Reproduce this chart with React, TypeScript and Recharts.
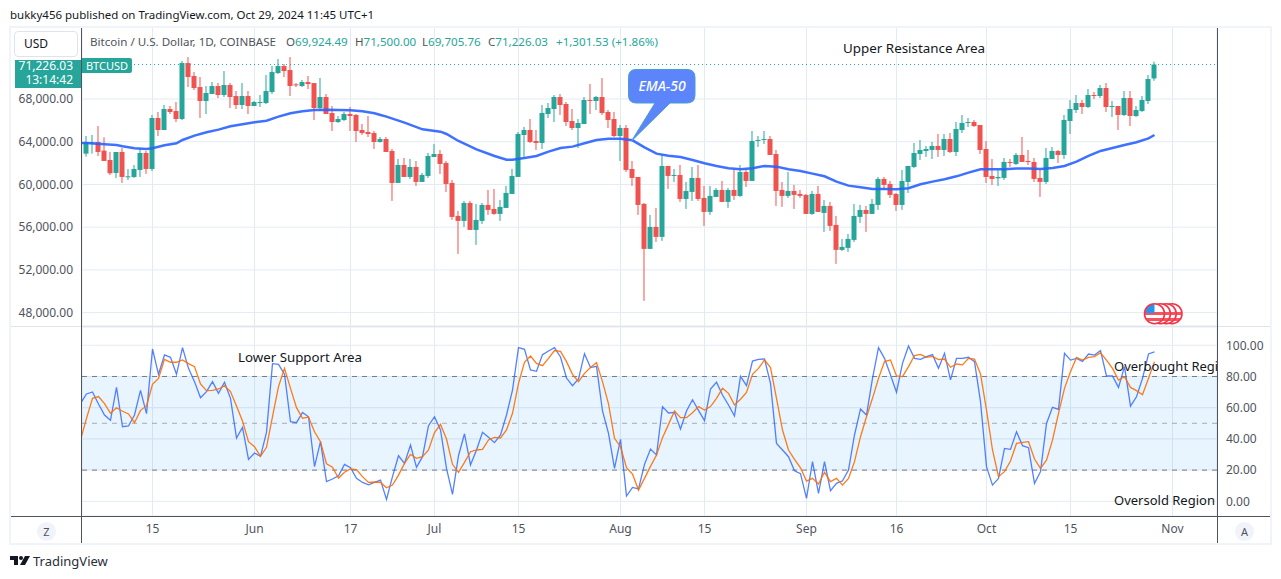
import React from 'react';
import {
  Bar,
  CartesianGrid,
  ComposedChart,
  Line,
  LineChart,
  ReferenceArea,
  ReferenceLine,
  XAxis,
  YAxis
} from 'recharts';

// Daily BTCUSD candles, index 0 = May 4 2024, index 178 = Oct 29 2024
const opens = [
  62884, 63882, 63975, 63165, 62291, 61075, 63040, 60701, 60701, 61356,
  62946, 61449, 66221, 65098, 67063, 66876, 66128, 71368, 70151, 69122,
  67812, 68467, 69215, 68373, 69309, 68280, 67438, 68280, 67344, 67656,
  67625, 68654, 70432, 71087, 70713, 69371, 69215, 69590, 69496, 67157,
  68186, 66689, 65847, 66034, 66595, 66502, 65098, 64911, 64818, 63976,
  64257, 63134, 60140, 61824, 60701, 61637, 60233, 60795, 62573, 62853,
  62011, 60140, 57052, 56584, 58269, 55742, 56584, 58081, 57707, 57239,
  57801, 59111, 60701, 64631, 65099, 64070, 63883, 66596, 67064, 68187,
  67532, 65941, 65286, 65660, 67906, 67813, 68187, 66783, 66128, 64538,
  65286, 61450, 60701, 58175, 53964, 56023, 55087, 61731, 60826, 60888,
  58643, 59298, 60608, 58736, 57426, 58830, 59485, 58362, 59485, 58924,
  61169, 60327, 64101, 64195, 64257, 62853, 59485, 58924, 59391, 59111,
  59017, 57239, 59111, 57333, 57988, 56210, 53871, 54058, 54807, 56958,
  57613, 57239, 58081, 60514, 60046, 59111, 58081, 60233, 61637, 62853,
  63134, 63228, 63602, 63228, 64257, 63041, 65099, 65785, 65847, 65567,
  63321, 60795, 60576, 60608, 62105, 61918, 62760, 62198, 62105, 60608,
  60233, 62385, 63134, 62760, 65941, 66970, 67625, 67251, 68374, 68280,
  69029, 67282, 67345, 66503, 68093, 66409, 66877, 67813, 69924
];
const highs = [
  64537, 64631, 65473, 64412, 63040, 62541, 63414, 61449, 61823, 63383,
  63133, 66502, 66783, 67438, 67344, 67718, 71555, 71929, 70525, 70058,
  69215, 69590, 69496, 70619, 69496, 68748, 69496, 68748, 67812, 68373,
  70245, 71087, 71742, 71274, 71929, 69496, 69777, 70151, 69496, 69964,
  68467, 67344, 66408, 66783, 67251, 66595, 65660, 66408, 65005, 64444,
  64444, 63321, 62386, 62479, 62386, 62198, 61076, 62947, 63789, 63228,
  62198, 60421, 57520, 58456, 58456, 58175, 58269, 59485, 59578, 58549,
  59859, 61450, 64912, 65380, 66128, 65099, 67438, 67625, 68374, 68468,
  67719, 67064, 66128, 68187, 69403, 68280, 69965, 66970, 66783, 65567,
  65567, 62198, 60701, 58269, 57146, 57801, 62760, 61731, 61450, 61824,
  60233, 61637, 61824, 59859, 59859, 59672, 60327, 59672, 61450, 61824,
  61450, 65006, 64538, 65006, 64538, 63228, 60233, 61169, 59953, 59485,
  59111, 59391, 59859, 58549, 58362, 57052, 54900, 55368, 58175, 58081,
  57988, 58643, 60701, 60701, 60327, 59204, 61356, 61731, 63883, 64163,
  63602, 63976, 64725, 64725, 64818, 65848, 66503, 66222, 66035, 65567,
  64070, 62385, 61356, 62479, 62385, 62947, 64444, 63228, 62479, 61356,
  63415, 63508, 63228, 66503, 67906, 68374, 67906, 68935, 68655, 69310,
  69497, 67813, 67345, 68748, 68748, 67345, 68280, 70245, 71500
];
const lows = [
  62603, 62884, 62666, 62198, 60888, 60607, 60139, 60420, 60607, 60701,
  60981, 61262, 64537, 65098, 66595, 65847, 66034, 69122, 68841, 66221,
  66595, 68467, 68093, 68186, 67157, 67063, 67063, 66595, 67344, 67251,
  67531, 68467, 70338, 70058, 68280, 69122, 69122, 68935, 66034, 66876,
  66595, 65005, 65753, 65941, 65005, 63975, 64631, 64444, 63321, 63914,
  63041, 58456, 60140, 60701, 60514, 59859, 60233, 60608, 62573, 60982,
  59298, 56678, 53496, 56023, 55742, 54339, 56303, 57146, 57146, 56584,
  57801, 59111, 60701, 62479, 63883, 63228, 63321, 66222, 65848, 66503,
  65473, 65099, 63415, 65660, 66596, 66970, 66503, 65286, 64444, 62198,
  61169, 59859, 57146, 49099, 53964, 54619, 54713, 59579, 60233, 58362,
  57707, 58456, 58456, 56117, 57146, 58830, 58362, 57801, 58549, 58830,
  59765, 60327, 63508, 63789, 62760, 57988, 57894, 58736, 57707, 58736,
  57239, 57146, 57426, 55555, 55649, 52560, 53777, 53684, 54619, 56397,
  55555, 57239, 57613, 59485, 58736, 57520, 57613, 59204, 61544, 62292,
  62573, 62386, 62573, 62666, 62947, 62666, 64818, 65380, 65380, 62853,
  60140, 59953, 59859, 60421, 61637, 61824, 62105, 61824, 60233, 58830,
  60046, 62385, 62011, 62385, 64725, 66690, 66596, 67158, 67999, 68093,
  66783, 66315, 65099, 66409, 65473, 66315, 66783, 67532, 69706
];
const closes = [
  63944, 63944, 63040, 62198, 61044, 63040, 60701, 60763, 61449, 62946,
  61449, 66221, 65098, 67063, 66783, 66128, 71368, 70058, 69028, 67812,
  68560, 69215, 68373, 69309, 68186, 67438, 68280, 67344, 67718, 67718,
  68748, 70525, 71087, 70619, 69215, 69278, 69590, 69403, 67157, 68186,
  66595, 65847, 66128, 66595, 66408, 65005, 64818, 64724, 63975, 64257,
  63041, 60140, 61824, 60701, 61637, 60233, 60888, 62666, 62853, 61918,
  60046, 56958, 56584, 58269, 55742, 56678, 58081, 57613, 57239, 57894,
  59204, 60795, 64725, 65099, 63976, 63883, 66690, 67158, 68187, 67438,
  65848, 65286, 65754, 67906, 67844, 68187, 66690, 66035, 64538, 65286,
  61356, 60608, 58081, 53964, 56023, 55087, 61731, 60795, 60888, 58643,
  59391, 60608, 58643, 57426, 58924, 59485, 58362, 59485, 58924, 61169,
  60327, 64070, 64163, 64257, 62760, 59391, 58924, 59391, 59017, 58924,
  57239, 59111, 57426, 57988, 56117, 53871, 54152, 54900, 57052, 57613,
  57239, 58175, 60514, 59953, 59017, 58081, 60327, 61731, 62947, 63228,
  63321, 63602, 63228, 64257, 63041, 65193, 65754, 65847, 65473, 63228,
  60701, 60514, 60701, 62105, 62011, 62760, 62105, 62105, 60514, 60233,
  62479, 63134, 62760, 66035, 67064, 67625, 67251, 68374, 68280, 69029,
  67251, 67345, 66503, 68093, 66409, 66970, 67906, 69871, 71226.03
];

// EMA-50 read at these candle indexes, -1 is the candle just left of the pane
const emaIndexes = [
  -1, 0, 3, 5, 6, 8, 10, 11, 13, 15, 16, 18, 20, 22, 24, 26, 28, 30, 32, 34, 36, 38, 40, 42, 44, 46,
  48, 49, 50, 53, 56, 59, 60, 62, 65, 68, 70, 71, 73, 75, 77, 79, 81, 83, 85, 87, 89, 91, 93, 95, 97,
  99, 101, 103, 105, 107, 109, 111, 113, 115, 117, 119, 121, 123, 125, 127, 129, 131, 133, 135, 137,
  139, 141, 143, 145, 147, 149, 151, 153, 155, 157, 159, 161, 163, 165, 167, 169, 171, 173, 175, 177, 178
];
const emaValues = [
  63890, 63882, 63757, 63695, 63570, 63383, 63321, 63383, 63664, 63851, 64163, 64568, 64880, 65130, 65442, 65629, 65816, 65972, 66346, 66658, 66845, 66970, 67001, 66970, 66939, 66845,
  66658, 66502, 66347, 65785, 65162, 64943, 64725, 64070, 63290, 62666, 62323, 62323, 62479, 62666, 63072, 63415, 63540, 63852, 64163, 64288, 64288, 64132, 63477, 62885, 62697,
  62573, 62292, 61980, 61731, 61512, 61419, 61512, 61731, 61668, 61419, 61263, 61013, 60764, 60265, 59890, 59735, 59578, 59578, 59547, 59641,
  60015, 60265, 60483, 60760, 61107, 61418, 61418, 61418, 61481, 61481, 61450, 61543, 61731, 62135, 62666, 63134, 63415, 63695, 63945, 64319, 64631
];

// Stochastic RSI, first value is candle -1
const stochK = [
  62.8, 68.8, 70.1, 62.4, 55.3, 51.9, 73.0, 47.8, 48.3, 55.3, 71.1, 56.2, 97.6, 81.4, 93.8, 92.3, 81.4, 98.5,
  85.2, 76.7, 66.4, 70.3, 76.7, 69.2, 76.3, 66.0, 40.6, 47.4, 26.9, 31.0, 28.8, 44.2, 88.2, 87.8, 81.4, 51.0,
  50.4, 57.0, 54.2, 22.2, 38.2, 12.6, 14.3, 16.4, 23.7, 21.5, 14.7, 12.1, 10.6, 12.1, 13.6, 1.2, 15.8, 29.2,
  24.3, 36.1, 21.8, 28.6, 48.5, 54.2, 45.7, 21.1, 4.4, 29.2, 43.3, 23.3, 32.9, 44.2, 41.0, 37.6, 42.5, 55.3,
  71.3, 98.5, 97.4, 84.2, 83.3, 94.0, 96.3, 98.5, 92.5, 79.0, 74.1, 78.4, 94.6, 85.7, 86.5, 57.9, 43.6, 21.1,
  39.7, 3.4, 8.9, 7.9, 23.7, 33.5, 29.7, 60.7, 56.6, 57.0, 46.3, 57.9, 65.1, 58.3, 51.7, 72.0, 76.3,
  68.1, 61.7, 54.7, 80.1, 74.1, 89.9, 91.0, 91.2, 75.6, 37.1, 32.9, 28.6, 19.6, 17.7, 1.9, 25.4, 5.1, 25.4,
  6.8, 11.5, 13.2, 20.0, 42.5, 59.2, 55.3, 78.8, 98.5, 91.6, 81.0, 69.9, 88.4, 99.5, 91.6, 91.0, 92.7, 94.0,
  85.2, 94.8, 77.8, 91.6, 91.6, 92.3, 89.5, 63.9, 22.2, 10.4, 14.7, 33.9, 33.3, 44.6, 35.7, 34.4, 11.5, 19.0,
  49.9, 60.2, 58.9, 94.8, 90.5, 91.6, 89.7, 94.4, 93.7, 96.5, 80.3, 80.3, 73.0, 86.3, 61.0, 67.0, 78.8, 94.4, 95.7
];
const stochD = [
  39.3, 53.2, 66.0, 67.1, 62.6, 56.4, 60.0, 57.7, 56.0, 50.4, 58.3, 61.1, 75.0, 78.8, 91.0, 89.1, 89.1, 90.6,
  88.2, 86.3, 75.2, 70.9, 71.1, 72.0, 74.1, 70.3, 61.1, 51.5, 38.2, 35.0, 28.8, 34.6, 54.2, 73.5, 85.2, 72.4,
  60.0, 53.2, 54.0, 44.6, 38.2, 24.1, 21.8, 14.9, 18.6, 20.7, 20.3, 15.8, 12.1, 12.4, 12.1, 8.7, 10.4, 16.8,
  24.3, 30.1, 27.5, 28.6, 32.9, 44.0, 49.3, 39.9, 23.7, 18.6, 25.0, 31.8, 32.9, 33.3, 39.3, 41.0, 40.6, 45.7,
  56.4, 75.6, 89.1, 93.1, 88.4, 86.9, 91.6, 96.6, 96.1, 89.5, 81.4, 76.7, 82.0, 85.7, 88.9, 76.7, 62.4, 40.4,
  35.0, 21.5, 17.5, 7.2, 14.7, 22.4, 29.7, 40.8, 49.3, 57.9, 53.6, 53.6, 56.8, 60.7, 58.5, 60.7, 66.0,
  72.4, 69.2, 61.7, 65.4, 69.8, 81.4, 85.2, 90.6, 85.7, 66.0, 45.7, 32.9, 26.9, 21.5, 13.0, 14.7, 11.1, 18.6,
  12.6, 14.7, 10.4, 14.7, 25.4, 41.4, 54.2, 66.0, 78.8, 89.5, 90.6, 80.3, 79.9, 86.3, 93.4, 94.2, 92.3, 92.9,
  90.8, 91.2, 85.9, 88.0, 87.4, 91.6, 91.2, 81.6, 58.5, 32.9, 15.8, 19.0, 25.8, 37.1, 37.8, 38.2, 27.1, 21.1,
  26.4, 39.2, 56.3, 72.4, 83.1, 92.2, 90.5, 92.2, 92.7, 95.2, 90.5, 85.2, 77.7, 79.8, 73.0, 70.9, 68.3, 78.8, 89.5
];

const timeTicks = [11, 28, 44, 58, 72, 89, 103, 120, 135, 150, 164, 181];
const timeLabels = ['15', 'Jun', '17', 'Jul', '15', 'Aug', '15', 'Sep', '16', 'Oct', '15', 'Nov'];
const priceTicks = [48000, 52000, 56000, 60000, 64000, 68000];
const stochTicks = [0, 20, 40, 60, 80, 100];
const lastPrice = 71226.03;

const COLORS = {
  up: '#26a69a',
  down: '#ef5350',
  ema: '#2962ff',
  k: '#2962ff',
  d: '#ff6d00',
  grid: '#e3ebf2',
  axisText: '#50535e',
  frame: '#f0f3fa',
  axisLine: '#50535e'
};

const FONT = '"Noto Sans", sans-serif';
const DOMAIN_X: [number, number] = [-0.75, 188.4167];

const candleRows = [-1, ...opens.map((_, i) => i)].map((i) => {
  const emaAt = emaIndexes.indexOf(i);
  return {
    i,
    range: i >= 0 ? [lows[i], highs[i]] : null,
    open: opens[i],
    high: highs[i],
    low: lows[i],
    close: closes[i],
    ema: emaAt >= 0 ? emaValues[emaAt] : null
  };
});

const stochRows = stochK.map((k, idx) => ({ i: idx - 1, k, d: stochD[idx] }));

const formatPrice = (v: number) =>
  v.toLocaleString('en-US', { minimumFractionDigits: 2, maximumFractionDigits: 2 });

// Bar gets low..high as its range, open and close are placed with the same px/price ratio
const Candle = (props: any) => {
  const { x, y, width, height, payload } = props;
  if (!payload || payload.high === undefined) return null;
  const ratio = height / (payload.high - payload.low);
  const toY = (v: number) => y + (payload.high - v) * ratio;
  const color = payload.close >= payload.open ? COLORS.up : COLORS.down;
  const top = toY(Math.max(payload.open, payload.close));
  const bottom = toY(Math.min(payload.open, payload.close));
  return (
    <g>
      <line x1={x + width / 2} x2={x + width / 2} y1={y} y2={y + height} stroke={color} strokeWidth={1} />
      <rect x={x} y={top} width={width} height={Math.max(bottom - top, 1)} fill={color} />
    </g>
  );
};

const Label = ({ x, y, size = 12, color = '#131722', style, children }: any) => (
  <div
    style={{
      position: 'absolute',
      left: x,
      top: y,
      fontFamily: FONT,
      fontSize: size,
      lineHeight: '16px',
      color,
      whiteSpace: 'nowrap',
      ...style
    }}
  >
    {children}
  </div>
);

const Box = ({ x, y, w, h, color }: any) => (
  <div style={{ position: 'absolute', left: x, top: y, width: w, height: h, background: color }} />
);

const badgeCenters = [30, 24.2, 18.4, 12.5];

const FlagBadges = () => (
  <svg width={44} height={26} style={{ position: 'absolute', left: 1142, top: 301 }}>
    <defs>
      {badgeCenters.map((cx) => (
        <clipPath id={`badge-${cx}`} key={cx}>
          <circle cx={cx} cy={12.7} r={9.6} />
        </clipPath>
      ))}
    </defs>
    {badgeCenters.map((cx, idx) => (
      <g key={cx}>
        <circle cx={cx} cy={12.7} r={10} fill="#ffffff" />
        <g clipPath={`url(#badge-${cx})`}>
          <rect x={cx - 10} y={11} width={20} height={3} fill="#f7525f" />
          <rect x={cx - 10} y={17} width={20} height={3} fill="#f7525f" />
          {idx === 3 && <rect x={cx - 10} y={3} width={10} height={9} fill="#2196f3" />}
        </g>
        <circle cx={cx} cy={12.7} r={10} fill="none" stroke="#f23645" strokeWidth={1.6} />
      </g>
    ))}
  </svg>
);

const Callout = () => (
  <svg width={80} height={80} style={{ position: 'absolute', left: 624, top: 66 }}>
    <path
      d="M12 3.5 H63 Q71 3.5 71 11.5 V29 Q71 37 63 37 H46 L7.5 75 L31 37 H12 Q4.5 37 4.5 29 V11.5 Q4.5 3.5 12 3.5 Z"
      fill="#5c85fb"
      stroke="#45a0d0"
      strokeWidth={1}
    />
    <text
      x={38}
      y={25}
      textAnchor="middle"
      fill="#ffffff"
      fontFamily={FONT}
      fontStyle="italic"
      fontWeight={500}
      fontSize={14}
    >
      EMA-50
    </text>
  </svg>
);

const App = () => (
  <div style={{ position: 'fixed', left: 0, top: 0, width: 1281, height: 579, background: '#ffffff', overflow: 'hidden' }}>
    <Label x={10} y={7} size={11.5} color="#131722">
      bukky456 published on TradingView.com, Oct 29, 2024 11:45 UTC+1
    </Label>

    {/* price pane */}
    <div style={{ position: 'absolute', left: 0, top: 0 }}>
      <ComposedChart
        width={1281}
        height={326}
        data={candleRows}
        margin={{ top: 27, right: 64, bottom: 0, left: 11 }}
      >
        <CartesianGrid stroke={COLORS.grid} strokeWidth={1} />
        <XAxis dataKey="i" type="number" domain={DOMAIN_X} ticks={timeTicks} allowDataOverflow hide />
        <YAxis
          domain={[46745, 74742]}
          ticks={priceTicks}
          allowDataOverflow
          width={71}
          axisLine={false}
          tickLine={false}
          tickSize={0}
          tickMargin={9}
          tick={{ fontSize: 12, fontFamily: FONT, fill: COLORS.axisText }}
          tickFormatter={formatPrice}
        />
        <ReferenceLine y={lastPrice} stroke={COLORS.up} strokeDasharray="1 3" />
        <Bar dataKey="range" barSize={5} shape={<Candle />} isAnimationActive={false} />
        <Line
          dataKey="ema"
          stroke={COLORS.ema}
          strokeWidth={2.5}
          strokeOpacity={0.9}
          dot={false}
          connectNulls
          isAnimationActive={false}
        />
      </ComposedChart>
    </div>

    {/* stochastic pane */}
    <div style={{ position: 'absolute', left: 0, top: 0 }}>
      <LineChart
        width={1281}
        height={579}
        data={stochRows}
        margin={{ top: 327, right: 9, bottom: 35, left: 82 }}
      >
        <CartesianGrid stroke={COLORS.grid} strokeWidth={1} />
        <ReferenceArea y1={20} y2={80} fill="#2196f3" fillOpacity={0.1} stroke="none" />
        <XAxis
          dataKey="i"
          type="number"
          domain={DOMAIN_X}
          ticks={timeTicks}
          allowDataOverflow
          height={28}
          axisLine={false}
          tickLine={false}
          tickSize={0}
          tickMargin={8}
          tick={{ fontSize: 12, fontFamily: FONT, fill: COLORS.axisText }}
          tickFormatter={(v: number) => timeLabels[timeTicks.indexOf(v)]}
        />
        <YAxis
          orientation="right"
          domain={[-9.4, 111.7]}
          ticks={stochTicks}
          allowDataOverflow
          width={55}
          axisLine={false}
          tickLine={false}
          tickSize={0}
          tickMargin={9}
          tick={{ fontSize: 12, fontFamily: FONT, fill: COLORS.axisText, textAnchor: 'start' }}
          tickFormatter={(v: number) => v.toFixed(2)}
        />
        <ReferenceLine y={80} stroke="#787b86" strokeDasharray="5 5" />
        <ReferenceLine y={50} stroke="#787b86" strokeOpacity={0.6} strokeDasharray="5 5" />
        <ReferenceLine y={20} stroke="#787b86" strokeDasharray="5 5" />
        <Line dataKey="k" stroke={COLORS.k} strokeWidth={1.3} strokeOpacity={0.8} dot={false} isAnimationActive={false} />
        <Line dataKey="d" stroke={COLORS.d} strokeWidth={1.3} strokeOpacity={0.9} dot={false} isAnimationActive={false} />
      </LineChart>
    </div>

    {/* frame and pane separators */}
    <div
      style={{
        position: 'absolute',
        left: 9,
        top: 26,
        width: 1259,
        height: 515,
        border: `2px solid ${COLORS.frame}`
      }}
    />
    <Box x={11} y={326} w={1259} h={1} color="#e0e3eb" />
    <Box x={11} y={516} w={1259} h={1} color={COLORS.axisLine} />
    <Box x={81} y={28} w={1} h={515} color={COLORS.axisLine} />
    <Box x={1217} y={28} w={1} h={515} color={COLORS.axisLine} />

    {/* legend */}
    <Label x={90} y={34} size={11.6} color="#50535e">
      Bitcoin / U.S. Dollar, 1D, COINBASE
    </Label>
    <Label x={286} y={34} size={11.6} color="#50535e">
      O<span style={{ color: COLORS.up }}>69,924.49</span>
    </Label>
    <Label x={355} y={34} size={11.6} color="#50535e">
      H<span style={{ color: COLORS.up }}>71,500.00</span>
    </Label>
    <Label x={422} y={34} size={11.6} color="#50535e">
      L<span style={{ color: COLORS.up }}>69,705.76</span>
    </Label>
    <Label x={488} y={34} size={11.6} color="#50535e">
      C<span style={{ color: COLORS.up }}>71,226.03</span>
    </Label>
    <Label x={556} y={34} size={11.6} color={COLORS.up}>
      +1,301.53 (+1.86%)
    </Label>

    {/* price scale widgets */}
    <div
      style={{
        position: 'absolute',
        left: 14,
        top: 31,
        width: 64,
        height: 26,
        boxSizing: 'border-box',
        border: '1px solid #e0e3eb',
        borderRadius: 4,
        background: '#ffffff',
        fontFamily: FONT,
        fontSize: 12,
        lineHeight: '24px',
        paddingLeft: 9,
        color: '#131722'
      }}
    >
      USD
    </div>
    <div
      style={{
        position: 'absolute',
        left: 15,
        top: 60,
        width: 66,
        height: 28,
        background: COLORS.up,
        color: '#ffffff',
        fontFamily: FONT,
        fontSize: 12,
        textAlign: 'right',
        paddingRight: 8,
        boxSizing: 'border-box',
        lineHeight: '14px'
      }}
    >
      <div style={{ height: 12, overflow: 'hidden', lineHeight: '11px' }}>71,226.03</div>
      <div style={{ marginTop: 1 }}>13:14:42</div>
    </div>
    <div
      style={{
        position: 'absolute',
        left: 82,
        top: 58,
        width: 50,
        height: 15,
        background: COLORS.up,
        color: '#ffffff',
        fontFamily: FONT,
        fontSize: 11,
        textAlign: 'center',
        lineHeight: '15px',
        borderRadius: '0 2px 2px 0'
      }}
    >
      BTCUSD
    </div>

    {/* drawn annotations */}
    <Label x={843} y={40} size={13.4}>
      Upper Resistance Area
    </Label>
    <Label x={238} y={349} size={13.3}>
      Lower Support Area
    </Label>
    <div style={{ position: 'absolute', left: 1114, top: 358, width: 103, overflow: 'hidden' }}>
      <div style={{ fontFamily: FONT, fontSize: 13, lineHeight: '16px', color: '#131722', whiteSpace: 'nowrap' }}>
        Overbought Region
      </div>
    </div>
    <Label x={1114} y={492} size={13}>
      Oversold Region
    </Label>
    <Callout />
    <FlagBadges />

    {/* corner buttons and logo */}
    <div style={{ position: 'absolute', left: 37, top: 522, width: 19, height: 19, borderRadius: 10, background: COLORS.frame, textAlign: 'center', fontFamily: FONT, fontSize: 11, lineHeight: '19px', color: COLORS.axisText }}>
      Z
    </div>
    <div style={{ position: 'absolute', left: 1235, top: 522, width: 19, height: 19, borderRadius: 10, background: COLORS.frame, textAlign: 'center', fontFamily: FONT, fontSize: 11, lineHeight: '19px', color: COLORS.axisText }}>
      A
    </div>
    <svg width={20} height={10} style={{ position: 'absolute', left: 10, top: 556 }}>
      <path d="M0 0 H8 V9 H4 V4 H0 Z" fill="#131722" />
      <circle cx={11} cy={2} r={2} fill="#131722" />
      <path d="M15 0 H20 L15 9 H10 Z" fill="#131722" />
    </svg>
    <Label x={33} y={553} size={13} color="#2a2e39">
      TradingView
    </Label>
  </div>
);

export default App;
